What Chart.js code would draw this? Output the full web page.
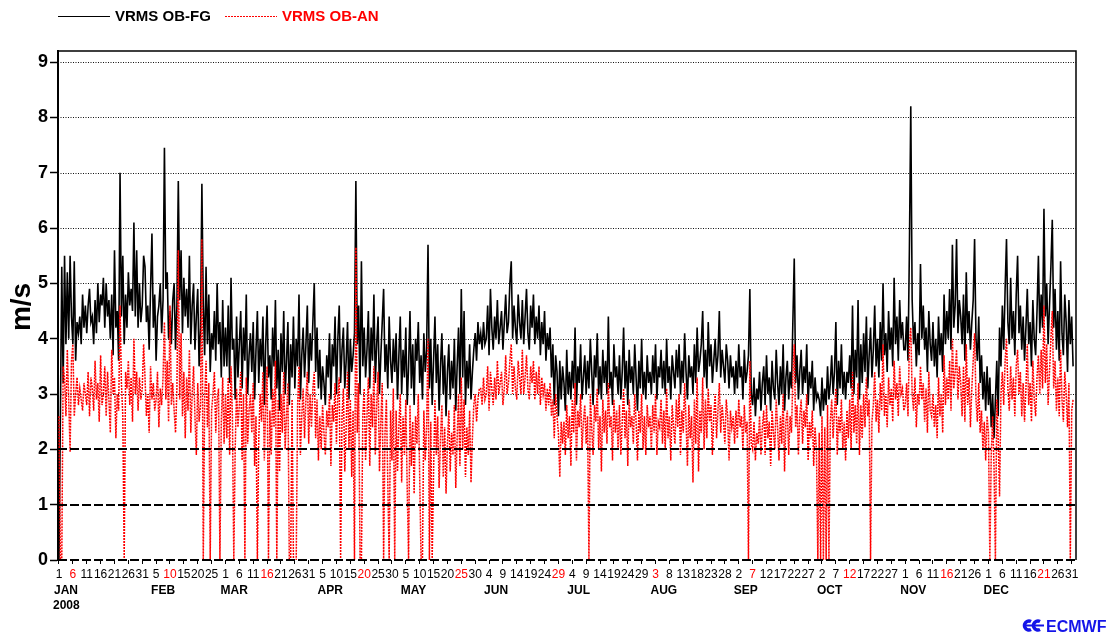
<!DOCTYPE html>
<html>
<head>
<meta charset="utf-8">
<title>VRMS OB-FG / OB-AN 2008</title>
<script src="https://cdn.jsdelivr.net/npm/chart.js@4.4.0/dist/chart.umd.min.js"></script>
<style>
  body { margin: 0; background: #fff; }
  canvas { display: block; }
</style>
</head>
<body>
<canvas id="chart" width="1110" height="632"></canvas>
<script>
// VRMS OB-FG, two values per day (00 and 12 UTC), m/s
const fgJan = [0, 2.6, 5.3, 3.2, 5.5, 3.9, 5.2, 4.0, 5.5, 4.4,
  3.9, 5.4, 3.6, 4.3, 4.1, 4.4, 3.9, 4.8, 4.2, 4.6,
  4.1, 4.6, 4.9, 4.3, 4.4, 3.9, 4.7, 4.1, 5.0, 4.3,
  4.8, 4.6, 5.1, 4.2, 5.0, 4.4, 4.7, 4.0, 4.8, 3.7,
  5.6, 4.2, 4.5, 3.6, 7.0, 4.4, 5.5, 3.9, 4.8, 4.2,
  5.2, 4.6, 4.9, 4.5, 6.1, 4.4, 5.6, 4.2, 5.0, 4.3,
  4.6, 5.5];
const fgFeb = [5.3, 4.3, 4.6, 3.8, 4.9, 5.9, 4.2, 4.8, 3.6, 4.4,
  4.6, 5.0, 4.1, 4.7, 7.45, 4.9, 5.2, 4.0, 4.5, 3.9,
  4.7, 5.0, 3.8, 4.6, 6.85, 4.7, 5.6, 4.1, 5.1, 4.4,
  4.9, 4.2, 5.5, 3.9, 4.6, 5.0, 3.8, 4.4, 4.9, 3.5,
  4.2, 6.8, 4.6, 3.7, 5.3, 3.9, 4.8, 3.4, 4.1, 3.8,
  4.5, 3.6, 5.0, 3.9, 4.3, 3.3, 4.7, 3.5];
const fgMar = [4.2, 3.5, 4.6, 3.2, 5.1, 3.8, 4.0, 2.9, 4.4, 3.3,
  3.9, 4.5, 3.1, 4.2, 3.6, 4.8, 3.0, 3.7, 4.1, 3.4,
  4.3, 2.9, 3.8, 4.5, 3.2, 4.0, 3.5, 4.4, 2.8, 3.9,
  4.6, 3.3, 3.7, 2.9, 4.2, 3.5, 4.7, 3.1, 3.8, 2.7,
  4.1, 3.4, 4.5, 3.0, 3.6, 4.3, 2.8, 3.9, 3.3, 4.4,
  3.1, 4.0, 3.5, 4.8, 2.9, 3.7, 4.2, 3.3, 3.9, 4.6,
  3.2, 4.1];
const fgApr = [3.6, 4.3, 5.0, 3.4, 4.2, 3.1, 3.8, 2.9, 3.5, 3.2,
  2.8, 3.7, 3.3, 4.1, 2.9, 3.9, 3.5, 4.4, 3.0, 4.0,
  4.6, 3.2, 3.8, 4.2, 3.1, 3.6, 4.3, 2.9, 4.0, 3.4,
  3.7, 4.1, 6.85, 3.9, 4.6, 3.0, 5.4, 3.5, 4.2, 3.3,
  3.8, 4.5, 3.1, 4.2, 3.6, 4.8, 3.2, 3.9, 4.4, 3.0,
  3.7, 4.3, 4.9, 3.4, 3.9, 3.1, 4.4, 3.6, 3.2, 4.0];
const fgMay = [3.4, 4.1, 2.9, 3.7, 4.4, 3.0, 3.8, 3.3, 4.2, 2.8,
  3.5, 4.5, 3.1, 3.9, 2.8, 4.0, 3.6, 4.3, 3.2, 3.7,
  2.9, 4.1, 3.4, 3.8, 5.7, 3.1, 4.0, 2.8, 3.6, 4.4,
  3.2, 3.9, 2.7, 3.5, 4.1, 3.0, 3.7, 2.6, 3.4, 3.9,
  2.9, 3.6, 3.1, 4.0, 2.7, 3.5, 4.2, 3.0, 4.9, 3.3,
  4.5, 2.8, 3.6, 3.1, 3.9, 2.9, 3.4, 3.8, 4.1, 3.6,
  4.3, 3.9];
const fgJun = [4.1, 3.8, 4.3, 3.9, 4.0, 4.6, 3.7, 4.9, 4.2, 3.8,
  4.4, 4.0, 4.7, 3.9, 4.2, 4.5, 3.8, 4.3, 4.8, 4.1,
  4.3, 5.0, 5.4, 4.0, 4.6, 4.2, 3.9, 4.8, 4.3, 4.0,
  4.7, 3.9, 4.4, 4.9, 4.1, 3.8, 4.6, 4.2, 4.8, 3.9,
  4.4, 4.0, 4.6, 3.7, 4.3, 3.9, 4.5, 3.6, 4.1, 3.8,
  4.2, 3.3, 3.9, 2.8, 3.7, 3.4, 2.6, 3.6, 2.9, 3.5];
const fgJul = [3.2, 2.7, 3.8, 3.0, 3.4, 2.9, 3.6, 3.1, 4.2, 2.8,
  3.5, 3.2, 3.9, 2.9, 3.3, 3.7, 3.0, 3.6, 3.1, 4.0,
  3.4, 2.8, 3.7, 3.3, 4.1, 3.0, 3.5, 2.9, 3.8, 3.2,
  3.6, 3.0, 4.4, 3.1, 3.4, 2.8, 3.9, 3.3, 3.5, 3.0,
  3.7, 2.9, 3.4, 4.2, 3.1, 3.6, 2.8, 3.8, 3.2, 3.5,
  3.0, 3.9, 3.3, 2.7, 3.6, 3.1, 4.0, 3.0, 3.4, 2.9,
  3.7, 3.2];
const fgAug = [3.4, 3.0, 3.7, 3.2, 3.9, 2.9, 3.5, 3.3, 3.8, 3.1,
  3.6, 3.0, 4.0, 3.2, 3.5, 2.9, 3.7, 3.4, 3.1, 3.8,
  3.3, 3.9, 3.0, 3.6, 3.2, 4.1, 3.4, 2.9, 3.7, 3.3,
  3.5, 3.0, 3.9, 3.2, 4.2, 3.4, 3.6, 3.9, 4.5, 3.3,
  3.8, 3.1, 4.3, 3.5, 3.9, 3.2, 3.6, 4.0, 3.4, 3.7,
  4.5, 3.3, 3.8, 3.5, 3.2, 3.9, 3.6, 3.1, 3.7, 3.3,
  3.5, 3.0];
const fgSep = [3.6, 3.1, 3.9, 3.3, 3.5, 2.9, 3.8, 3.2, 3.4, 3.7,
  4.9, 3.0, 2.8, 3.3, 2.6, 3.1, 2.9, 3.4, 2.7, 3.2,
  3.5, 2.8, 3.7, 3.0, 3.3, 2.7, 3.6, 3.1, 2.9, 3.8,
  3.2, 2.8, 3.5, 3.0, 3.9, 2.7, 3.3, 3.6, 2.9, 3.4,
  3.1, 4.3, 5.45, 3.2, 3.7, 2.9, 3.4, 3.8, 3.0, 3.5,
  3.2, 3.9, 2.8, 3.4, 3.1, 3.6, 2.7, 3.3, 2.9, 3.0];
const fgOct = [2.9, 2.6, 3.3, 2.7, 3.1, 2.8, 3.5, 2.9, 3.2, 3.7,
  3.0, 3.4, 4.3, 2.8, 3.6, 3.1, 3.9, 3.0, 3.4, 2.9,
  3.4, 3.2, 3.7, 3.1, 4.6, 3.0, 3.8, 3.3, 4.7, 2.9,
  3.9, 3.2, 4.1, 3.4, 4.4, 3.1, 3.7, 4.2, 3.3, 3.8,
  4.6, 3.5, 4.0, 3.3, 4.3, 3.6, 5.0, 3.7, 4.1, 3.4,
  4.5, 3.8, 4.2, 3.5, 5.1, 3.9, 4.4, 3.6, 4.7, 4.0,
  4.3, 3.8];
const fgNov = [3.8, 4.4, 3.6, 5.6, 8.2, 4.7, 3.9, 4.3, 3.5, 4.1,
  3.7, 5.35, 4.0, 4.6, 3.8, 4.2, 3.4, 4.5, 3.9, 3.6,
  4.3, 3.5, 4.0, 3.3, 4.4, 3.7, 4.1, 3.4, 4.8, 3.9,
  4.5, 4.0, 4.9, 3.8, 5.7, 4.2, 4.6, 5.8, 4.1, 4.7,
  4.4, 3.9, 4.8, 3.6, 5.2, 4.1, 4.5, 3.8, 4.3, 4.7,
  5.8, 4.0, 3.6, 4.4, 3.2, 3.7, 2.9, 3.4, 2.7, 3.5];
const fgDec = [2.8, 3.3, 2.4, 3.0, 2.2, 2.9, 3.6, 2.6, 4.2, 3.5,
  4.6, 3.8, 4.9, 5.8, 4.3, 3.9, 5.1, 4.0, 4.5, 3.7,
  4.8, 5.5, 4.1, 4.6, 3.8, 4.4, 3.6, 4.2, 4.9, 3.9,
  4.3, 3.5, 4.7, 4.0, 3.7, 4.5, 5.5, 4.1, 4.8, 4.2,
  6.35, 4.4, 5.0, 3.9, 4.6, 5.3, 6.15, 4.2, 4.9, 3.8,
  4.5, 3.6, 5.4, 4.1, 3.7, 4.8, 4.3, 3.4, 4.7, 3.9,
  4.4, 3.5];

// VRMS OB-AN, same times; 0 where the analysis value is missing
const anJan = [2.6, 0, 0, 3.5, 3.3, 2.6, 3.8, 2.9, 1.95, 3.6,
  3.9, 2.6, 3.0, 3.3, 2.8, 3.1, 2.9, 2.7, 3.2, 3.0,
  2.8, 3.4, 2.6, 3.3, 3.1, 2.7, 3.6, 2.9, 3.2, 2.5,
  3.7, 2.8, 3.0, 3.5, 2.6, 3.4, 2.9, 2.3, 3.8, 3.0,
  3.3, 2.2, 3.0, 2.7, 4.6, 3.2, 2.6, 0, 3.4, 3.1,
  3.6, 2.8, 3.3, 2.5, 4.0, 3.0, 3.4, 2.7, 3.3, 2.9,
  3.1, 3.9];
const anFeb = [3.3, 2.6, 3.0, 2.3, 3.5, 2.9, 3.2, 2.7, 2.9, 3.4,
  2.4, 3.1, 2.8, 3.3, 4.3, 2.9, 3.6, 2.5, 4.6, 2.8,
  3.2, 2.7, 2.3, 3.1, 5.6, 2.9, 4.1, 2.6, 3.4, 2.2,
  3.3, 2.7, 3.8, 2.3, 3.0, 3.5, 2.6, 1.9, 3.2, 2.5,
  2.8, 5.8, 0, 2.9, 3.6, 2.4, 3.2, 0, 2.7, 3.0,
  3.4, 2.3, 2.9, 3.1, 0, 2.5, 3.3, 2.1];
const anMar = [3.0, 2.2, 3.3, 1.9, 3.5, 2.6, 0, 2.0, 3.1, 2.4,
  2.8, 3.4, 1.8, 3.0, 0, 3.3, 2.1, 2.7, 3.0, 2.3,
  3.2, 1.7, 2.6, 0, 2.2, 3.0, 2.5, 3.4, 1.8, 2.8,
  3.5, 0, 2.7, 1.9, 3.1, 2.4, 3.6, 0, 2.9, 1.6,
  3.0, 2.3, 3.4, 2.0, 2.6, 3.2, 0, 0, 2.9, 0,
  0, 0, 2.8, 3.5, 1.9, 2.6, 3.1, 2.2, 2.9, 3.4,
  2.1, 3.0];
const anApr = [2.4, 3.1, 3.4, 2.2, 2.9, 1.8, 2.6, 2.0, 2.8, 2.3,
  1.9, 2.7, 2.4, 3.0, 1.7, 2.8, 2.5, 3.2, 2.1, 3.0,
  3.3, 0, 2.6, 3.1, 1.6, 2.4, 3.4, 2.0, 2.9, 1.5,
  2.7, 0, 5.65, 2.3, 3.2, 0, 0, 2.6, 3.1, 1.8,
  2.6, 3.3, 1.7, 3.0, 2.4, 3.5, 1.9, 2.8, 3.4, 1.6,
  2.5, 3.2, 0, 2.3, 2.9, 1.4, 0, 2.7, 1.8, 3.1];
const anMay = [0, 2.7, 1.6, 2.4, 3.0, 1.4, 2.6, 1.9, 2.9, 1.3,
  0, 2.8, 1.7, 2.5, 1.2, 2.6, 2.1, 3.0, 1.5, 0,
  0, 2.7, 1.8, 2.4, 4.0, 0, 2.5, 0, 1.6, 2.9,
  1.9, 2.6, 1.3, 2.2, 2.8, 1.5, 2.4, 1.2, 2.1, 2.7,
  1.6, 2.3, 1.9, 2.8, 1.3, 2.2, 3.0, 1.7, 3.3, 2.0,
  2.9, 1.5, 2.4, 1.9, 2.7, 1.4, 2.2, 2.8, 3.0, 2.5,
  2.9, 3.1];
const anJun = [3.1, 2.8, 3.3, 2.9, 3.0, 3.5, 2.7, 3.4, 3.1, 2.8,
  3.3, 2.9, 3.6, 3.0, 3.2, 3.4, 2.8, 3.1, 3.7, 3.0,
  3.2, 3.6, 3.9, 3.0, 3.5, 3.1, 2.9, 3.6, 3.3, 3.0,
  3.8, 3.0, 3.3, 3.7, 3.1, 2.9, 3.5, 3.2, 3.6, 2.9,
  3.4, 3.0, 3.5, 2.8, 3.3, 3.0, 3.2, 2.7, 3.1, 2.8,
  3.2, 2.6, 2.9, 2.2, 3.0, 2.6, 2.3, 1.5, 2.5, 2.1];
const anJul = [2.5, 1.9, 2.8, 2.2, 2.6, 1.7, 2.9, 2.3, 3.2, 1.8,
  2.7, 2.4, 3.0, 2.0, 2.5, 2.8, 2.1, 2.6, 0, 3.0,
  2.4, 1.9, 2.8, 2.5, 3.1, 2.0, 2.6, 1.6, 2.9, 2.3,
  2.7, 2.1, 3.2, 2.4, 2.6, 1.8, 2.9, 2.3, 2.7, 2.0,
  2.8, 1.9, 2.5, 3.1, 2.2, 2.7, 1.7, 2.9, 2.4, 2.6,
  2.1, 3.0, 2.5, 1.8, 2.7, 2.3, 3.0, 2.0, 2.6, 1.9,
  2.8, 2.4];
const anAug = [2.6, 2.0, 2.8, 2.3, 3.0, 1.9, 2.5, 2.4, 2.9, 2.1,
  2.7, 2.0, 3.1, 2.2, 2.6, 1.8, 2.8, 2.4, 2.1, 2.9,
  2.4, 3.0, 1.9, 2.7, 2.3, 3.2, 2.5, 1.7, 2.8, 2.2,
  2.6, 1.4, 2.9, 2.1, 3.3, 1.6, 2.7, 2.3, 3.3, 2.0,
  2.9, 2.2, 3.1, 2.5, 2.8, 1.9, 2.6, 3.0, 2.2, 2.7,
  3.2, 2.3, 2.8, 2.5, 2.1, 2.9, 2.6, 1.8, 2.7, 2.4,
  2.6, 2.1];
const anSep = [2.7, 2.2, 2.9, 2.4, 2.6, 2.0, 2.8, 2.3, 2.5, 0,
  3.6, 2.1, 2.0, 2.5, 1.8, 2.3, 2.1, 2.6, 1.9, 2.4,
  2.7, 1.9, 2.8, 2.2, 2.5, 1.7, 2.7, 2.3, 2.0, 2.9,
  2.4, 1.8, 2.6, 2.1, 3.0, 1.6, 2.5, 2.7, 1.9, 2.6,
  2.3, 3.3, 3.9, 2.4, 2.8, 1.9, 2.6, 2.9, 2.1, 2.7,
  2.4, 3.0, 1.8, 2.5, 2.2, 2.7, 1.7, 2.4, 2.0, 0];
const anOct = [2.3, 0, 2.6, 0, 2.4, 0, 2.8, 0, 2.5, 2.9,
  2.2, 2.7, 3.1, 1.9, 2.6, 2.3, 2.9, 2.0, 2.5, 1.8,
  2.7, 2.2, 2.9, 2.0, 3.4, 2.3, 2.8, 2.1, 3.2, 1.9,
  2.8, 2.2, 3.0, 2.4, 3.3, 2.6, 2.9, 0, 2.5, 2.8,
  3.4, 2.5, 2.9, 2.3, 3.2, 2.7, 3.9, 2.6, 3.0, 2.4,
  3.3, 2.8, 3.1, 2.5, 3.6, 2.9, 3.2, 2.6, 3.5, 3.0,
  3.1, 2.7];
const anNov = [2.8, 3.2, 2.6, 3.9, 4.2, 3.0, 2.7, 3.3, 2.4, 3.0,
  2.8, 3.5, 2.9, 3.2, 2.5, 3.1, 2.3, 3.4, 2.7, 2.6,
  3.0, 2.4, 2.8, 2.2, 3.3, 2.6, 3.0, 2.3, 3.7, 2.8,
  3.3, 2.9, 3.6, 2.7, 4.0, 3.1, 3.4, 3.8, 2.9, 3.5,
  3.2, 2.6, 3.5, 2.5, 3.9, 2.8, 3.3, 2.4, 3.1, 3.6,
  4.1, 2.9, 2.5, 3.2, 2.3, 2.7, 2.0, 2.5, 1.8, 2.6];
const anDec = [2.3, 0, 1.9, 2.6, 1.7, 0, 2.9, 2.2, 1.15, 3.0,
  3.4, 2.8, 3.6, 4.0, 3.1, 2.7, 3.5, 2.9, 3.3, 2.6,
  3.5, 3.8, 3.0, 3.4, 2.6, 3.2, 2.5, 3.1, 3.9, 2.8,
  3.2, 2.5, 3.6, 2.9, 2.6, 3.3, 3.7, 3.0, 3.8, 3.1,
  4.6, 3.2, 3.9, 2.8, 3.4, 4.0, 4.5, 3.1, 3.6, 2.7,
  3.3, 2.6, 3.8, 2.9, 2.5, 3.4, 3.0, 2.4, 3.2, 0,
  2.7, 2.9];

// x axis: a label every 5 days, day-of-month text
const tickLabels = ['1', '6', '11', '16', '21', '26', '31',
  '5', '10', '15', '20', '25',
  '1', '6', '11', '16', '21', '26', '31',
  '5', '10', '15', '20', '25', '30',
  '5', '10', '15', '20', '25', '30',
  '4', '9', '14', '19', '24', '29',
  '4', '9', '14', '19', '24', '29',
  '3', '8', '13', '18', '23', '28',
  '2', '7', '12', '17', '22', '27',
  '2', '7', '12', '17', '22', '27',
  '1', '6', '11', '16', '21', '26',
  '1', '6', '11', '16', '21', '26', '31'];
const redTickIndex = [1, 8, 15, 22, 29, 36, 43, 50, 57, 64, 71];
const monthNames = ['JAN', 'FEB', 'MAR', 'APR', 'MAY', 'JUN', 'JUL', 'AUG', 'SEP', 'OCT', 'NOV', 'DEC'];
const monthFirstTick = [1, 36, 61, 96, 126, 156, 186, 216, 246, 276, 306, 336];
const yearLabel = '2008';
const yTicks = [0, 1, 2, 3, 4, 5, 6, 7, 8, 9];
const dottedLevels = [3, 4, 5, 6, 7, 8, 9];
const dashedLevels = [0, 1, 2];

const tickDays = tickLabels.map((_, i) => 1 + 5 * i);
const fgAll = [].concat(fgJan, fgFeb, fgMar, fgApr, fgMay, fgJun, fgJul, fgAug, fgSep, fgOct, fgNov, fgDec);
const anAll = [].concat(anJan, anFeb, anMar, anApr, anMay, anJun, anJul, anAug, anSep, anOct, anNov, anDec);
const toPoints = arr => arr.map((v, i) => ({ x: 1 + i / 2, y: v }));

const FONT = "'Liberation Sans', Arial, sans-serif";

const decor = {
  id: 'decor',
  beforeDatasetsDraw(chart) {
    const { ctx, chartArea: a, scales: { y } } = chart;
    ctx.save();
    ctx.strokeStyle = '#111';
    ctx.lineWidth = 1.2;
    ctx.setLineDash([1, 1.5]);
    dottedLevels.forEach(v => {
      const py = Math.round(y.getPixelForValue(v)) + 0.5;
      ctx.beginPath();
      ctx.moveTo(a.left, py);
      ctx.lineTo(a.right, py);
      ctx.stroke();
    });
    ctx.restore();
  },
  afterDatasetsDraw(chart) {
    const { ctx, chartArea: a, scales: { y } } = chart;
    ctx.save();
    ctx.strokeStyle = '#000';
    ctx.lineWidth = 2;
    ctx.setLineDash([9, 3]);
    dashedLevels.forEach(v => {
      const py = Math.round(y.getPixelForValue(v));
      ctx.beginPath();
      ctx.moveTo(a.left, py);
      ctx.lineTo(a.right, py);
      ctx.stroke();
    });
    ctx.setLineDash([]);
    ctx.lineWidth = 1.5;
    ctx.beginPath();
    ctx.moveTo(a.left, a.top);
    ctx.lineTo(a.right, a.top);
    ctx.lineTo(a.right, y.getPixelForValue(0));
    ctx.stroke();
    ctx.restore();
  },
  afterDraw(chart) {
    const { ctx, scales: { x } } = chart;
    ctx.save();
    // legend
    ctx.lineWidth = 1.2;
    ctx.strokeStyle = '#000';
    ctx.beginPath(); ctx.moveTo(58, 16.5); ctx.lineTo(110, 16.5); ctx.stroke();
    ctx.strokeStyle = '#ff0000';
    ctx.setLineDash([2, 1]);
    ctx.beginPath(); ctx.moveTo(225, 16.5); ctx.lineTo(277, 16.5); ctx.stroke();
    ctx.setLineDash([]);
    ctx.font = 'bold 15px ' + FONT;
    ctx.textBaseline = 'middle';
    ctx.textAlign = 'left';
    ctx.fillStyle = '#000';
    ctx.fillText('VRMS OB-FG', 115, 17);
    ctx.fillStyle = '#ff0000';
    ctx.fillText('VRMS OB-AN', 282, 17);

    // y axis title
    ctx.fillStyle = '#000';
    ctx.font = 'bold 28px ' + FONT;
    ctx.translate(22, 307);
    ctx.rotate(-Math.PI / 2);
    ctx.textAlign = 'center';
    ctx.fillText('m/s', 0, 0);
    ctx.setTransform(1, 0, 0, 1, 0, 0);

    // month names and year under the day labels
    ctx.font = 'bold 12px ' + FONT;
    ctx.textAlign = 'left';
    monthNames.forEach((m, i) => {
      ctx.fillText(m, x.getPixelForValue(monthFirstTick[i]) - 5, 591);
    });
    ctx.fillText(yearLabel, x.getPixelForValue(monthFirstTick[0]) - 6, 606);

    // ECMWF mark
    ctx.fillStyle = '#1414e8';
    ctx.strokeStyle = '#1414e8';
    ctx.lineWidth = 3.5;
    [1029, 1038].forEach(cx => {
      ctx.beginPath();
      ctx.arc(cx, 625.5, 4.5, 0.35 * Math.PI, 1.65 * Math.PI);
      ctx.stroke();
    });
    ctx.lineWidth = 2;
    ctx.beginPath(); ctx.moveTo(1025, 625.5); ctx.lineTo(1044, 625.5); ctx.stroke();
    ctx.font = 'bold 16px ' + FONT;
    ctx.textBaseline = 'alphabetic';
    ctx.fillText('ECMWF', 1046, 632);
    ctx.restore();
  }
};

new Chart(document.getElementById('chart'), {
  type: 'line',
  data: {
    datasets: [{
      label: 'VRMS OB-FG',
      data: toPoints(fgAll),
      borderColor: '#000000',
      borderWidth: 1.6,
      pointRadius: 0,
      tension: 0,
      order: 2
    }, {
      label: 'VRMS OB-AN',
      data: toPoints(anAll),
      borderColor: '#ff0000',
      borderWidth: 1.5,
      borderDash: [2, 1],
      pointRadius: 0,
      tension: 0,
      order: 1
    }]
  },
  options: {
    responsive: false,
    animation: false,
    devicePixelRatio: 1,
    layout: { padding: { left: 0, top: 51, right: 34, bottom: 0 } },
    plugins: { legend: { display: false }, tooltip: { enabled: false } },
    scales: {
      x: {
        type: 'linear',
        min: 0.64,
        max: 367.55,
        afterBuildTicks: s => { s.ticks = tickDays.map(v => ({ value: v })); },
        afterFit: s => { s.height = 72; },
        border: { display: false },
        grid: { drawOnChartArea: false, drawTicks: true, tickLength: 4, tickColor: '#000', tickWidth: 1 },
        ticks: {
          autoSkip: false,
          maxRotation: 0,
          minRotation: 0,
          padding: 3,
          font: { family: FONT, size: 12 },
          color: c => redTickIndex.includes(c.index) ? '#ff0000' : '#000000',
          callback: (v, i) => tickLabels[i]
        }
      },
      y: {
        min: 0,
        max: 9.2,
        afterBuildTicks: s => { s.ticks = yTicks.map(v => ({ value: v })); },
        afterFit: s => { s.width = 58; },
        border: { display: true, color: '#000', width: 2 },
        grid: { drawOnChartArea: false, drawTicks: true, tickLength: 8, tickColor: '#000', tickWidth: 1.5 },
        ticks: {
          padding: 2,
          font: { family: FONT, size: 18, weight: 'bold' },
          color: '#000'
        }
      }
    }
  },
  plugins: [decor]
});
</script>
</body>
</html>
